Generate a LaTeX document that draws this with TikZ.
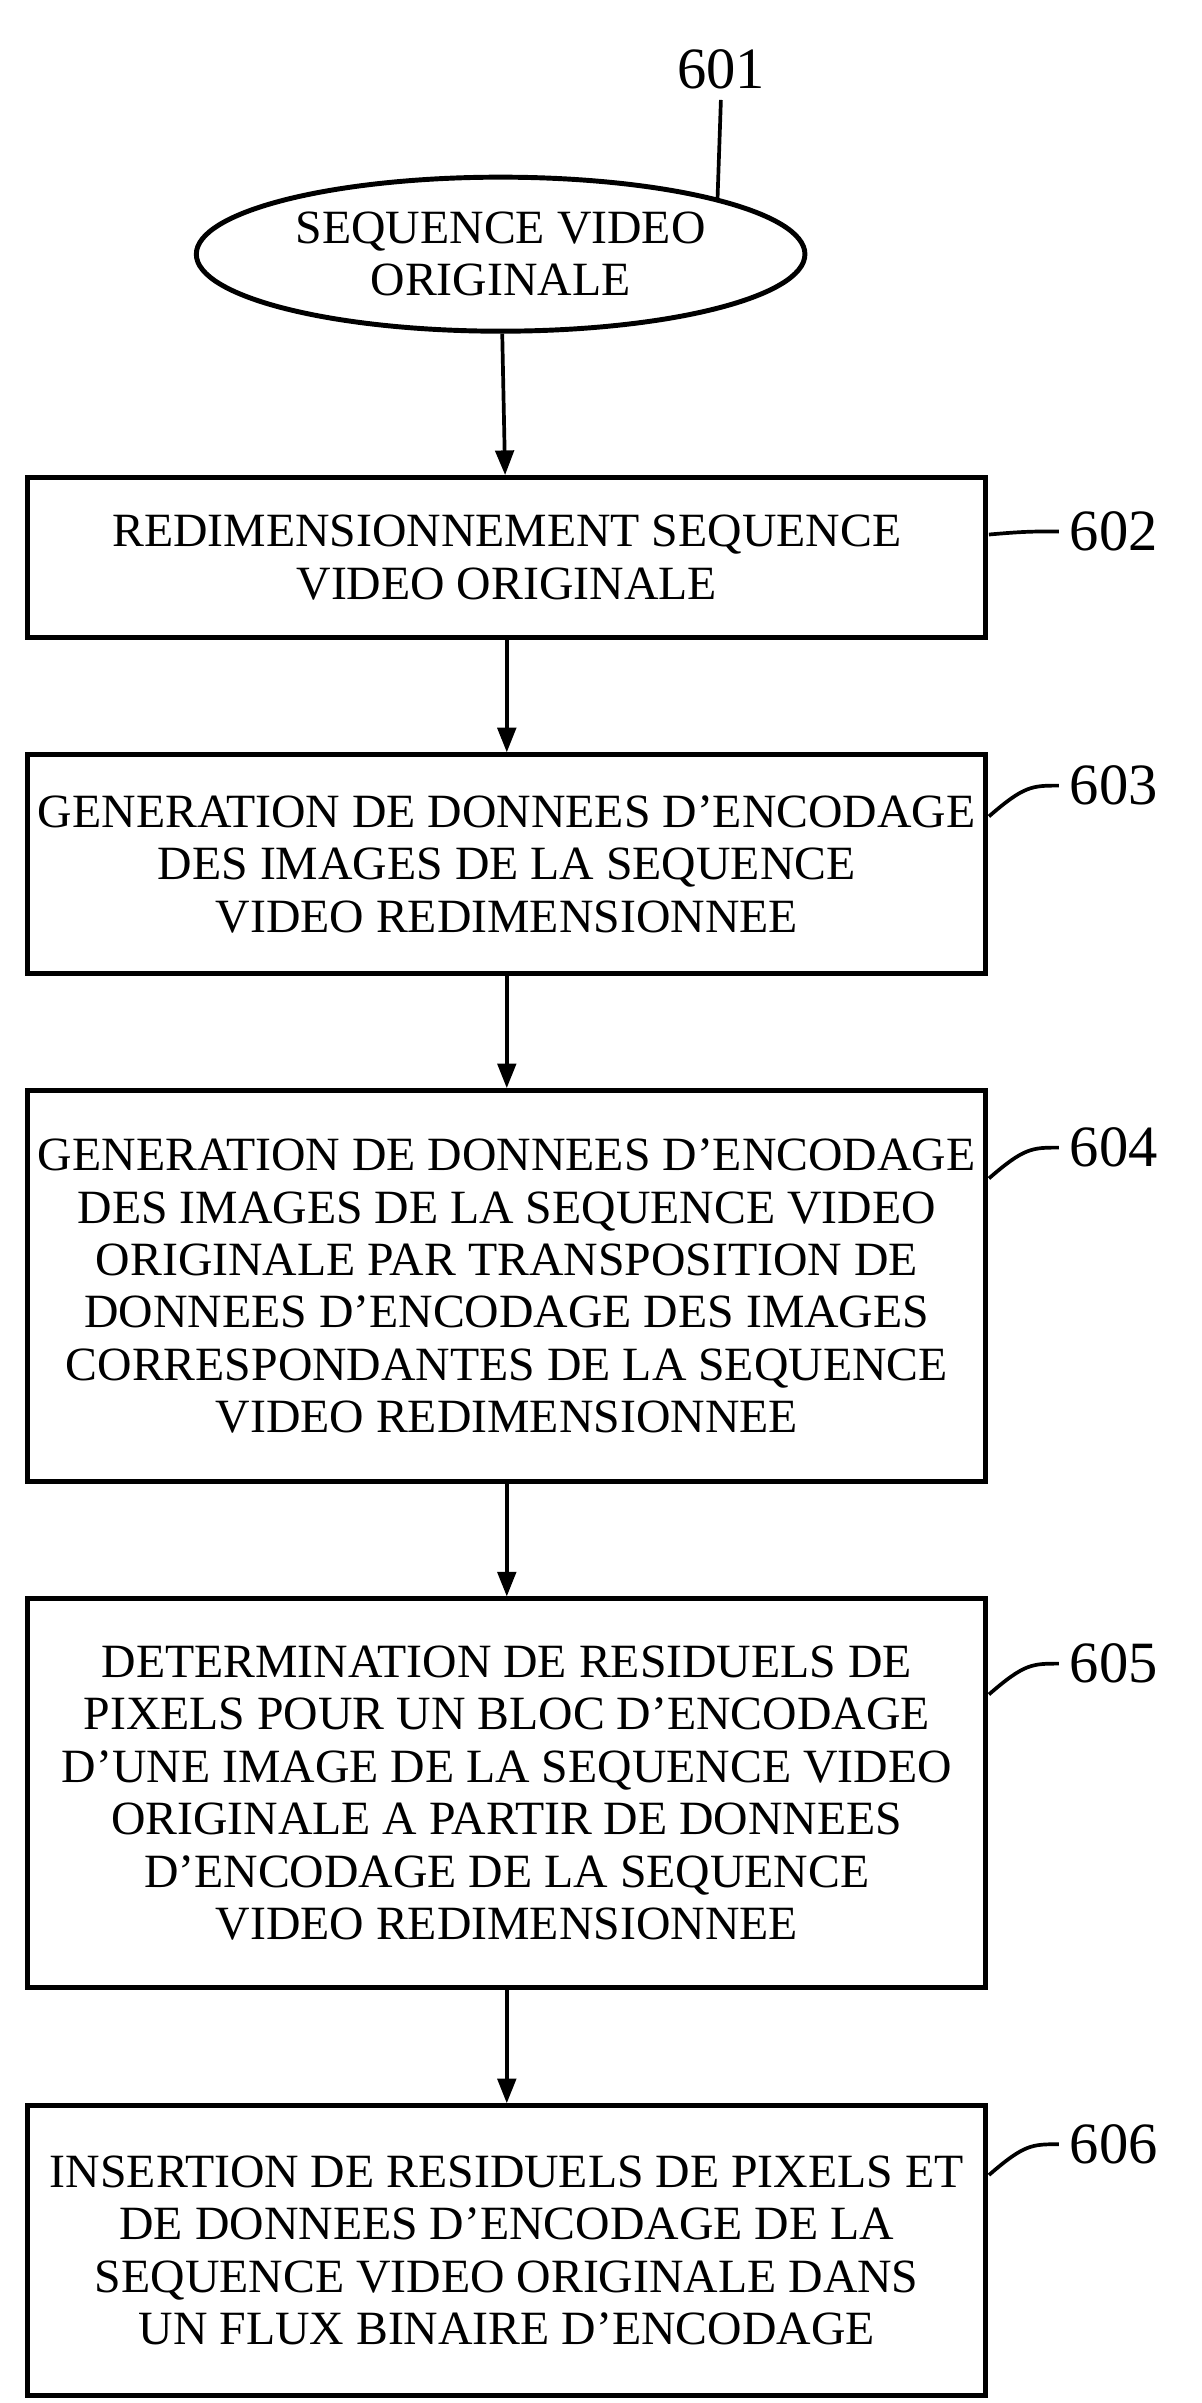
\documentclass[tikz,border=0pt]{standalone}
\usepackage{fontspec}
\setmainfont{Liberation Serif}
\usetikzlibrary{shapes.geometric,arrows.meta}
\tikzset{
  stepbox/.style={draw,line width=1.6pt,minimum width=311pt,align=center,
    font=\fontsize{15.5}{17}\selectfont,inner sep=2pt},
  flow/.style={-{Triangle[length=8pt,width=6pt]},line width=1.2pt},
  reflab/.style={font=\fontsize{19}{20}\selectfont},
  refline/.style={line width=1.2pt}
}
\begin{document}
\begin{tikzpicture}[x=0.5pt,y=-0.5pt]
  \useasboundingbox (0,0) rectangle (780,1560);
  % start
  \node[draw,ellipse,line width=1.6pt,minimum width=160pt,minimum height=50pt,
    align=center,font=\fontsize{15.5}{17}\selectfont] (s601) at (325,165)
    {SEQUENCE VIDEO\\ORIGINALE};
  % steps
  \node[stepbox,minimum height=52pt] (s602) at (329,362)
    {REDIMENSIONNEMENT SEQUENCE\\VIDEO ORIGINALE};
  \node[stepbox,minimum height=71pt] (s603) at (329,561)
    {GENERATION DE DONNEES D’ENCODAGE\\DES IMAGES DE LA SEQUENCE\\VIDEO REDIMENSIONNEE};
  \node[stepbox,minimum height=127pt] (s604) at (329,835)
    {GENERATION DE DONNEES D’ENCODAGE\\DES IMAGES DE LA SEQUENCE VIDEO\\ORIGINALE PAR TRANSPOSITION DE\\DONNEES D’ENCODAGE DES IMAGES\\CORRESPONDANTES DE LA SEQUENCE\\VIDEO REDIMENSIONNEE};
  \node[stepbox,minimum height=126pt] (s605) at (329,1164)
    {DETERMINATION DE RESIDUELS DE\\PIXELS POUR UN BLOC D’ENCODAGE\\D’UNE IMAGE DE LA SEQUENCE VIDEO\\ORIGINALE A PARTIR DE DONNEES\\D’ENCODAGE DE LA SEQUENCE\\VIDEO REDIMENSIONNEE};
  \node[stepbox,minimum height=94pt] (s606) at (329,1461)
    {INSERTION DE RESIDUELS DE PIXELS ET\\DE DONNEES D’ENCODAGE DE LA\\SEQUENCE VIDEO ORIGINALE DANS\\UN FLUX BINAIRE D’ENCODAGE};
  % arrows
  \draw[flow] (s601) -- (s602);
  \draw[flow] (s602) -- (s603);
  \draw[flow] (s603) -- (s604);
  \draw[flow] (s604) -- (s605);
  \draw[flow] (s605) -- (s606);
  % reference numbers
  \node[reflab] (r601) at (468,45) {601};
  \draw[refline] (s601.north east) -- (r601.south);
  \foreach \n/\y in {602/345,603/510,604/745,605/1080,606/1392} {
    \node[reflab] (r\n) at (723,\y) {\n};
    \coordinate (c\n) at (642,\y+\ifnum\n=602 2\else 20\fi);
    \draw[refline] (c\n) .. controls (665,\y) and (670,\y) .. (r\n.west);
  }
\end{tikzpicture}
\end{document}
